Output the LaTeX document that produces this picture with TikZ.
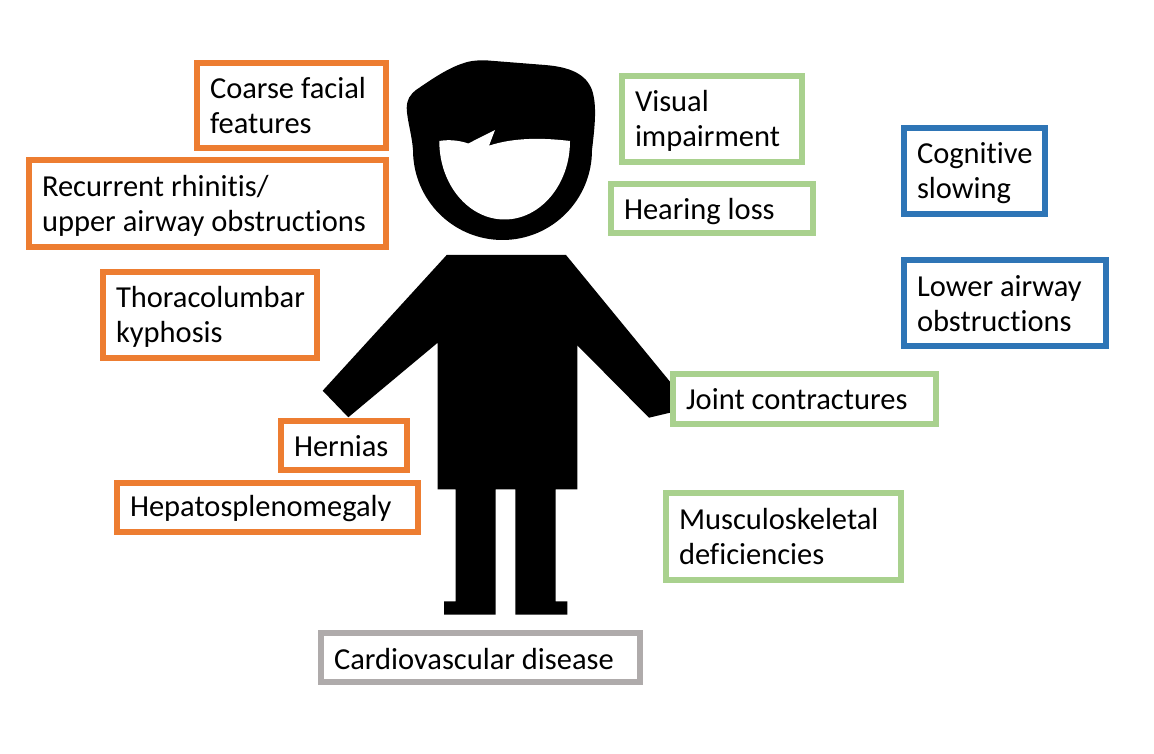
\documentclass[tikz,border=0pt]{standalone}
\usepackage{fontspec}
\setmainfont[Ligatures=NoCommon]{Carlito}
\definecolor{oran}{HTML}{ED7D31}
\definecolor{gree}{HTML}{A9D18E}
\definecolor{blu}{HTML}{2E75B6}
\definecolor{gra}{HTML}{AFABAB}
% #1 name, #2 colour, #3-#6 frame corners, #7 text shift, #8 text
\newcommand{\lbox}[8]{%
  \pgfmathsetmacro{\bw}{#5-#3}\pgfmathsetmacro{\bh}{#6-#4}%
  \pgfmathsetmacro{\bx}{(#3+#5)/2}\pgfmathsetmacro{\by}{(#4+#6)/2}%
  \pgfmathsetmacro{\ty}{\by+#7}%
  \node[frame box,draw=#2,minimum width=\bw pt,minimum height=\bh pt] (#1) at (\bx,\by) {};
  \node[label text,text width=\bw pt-26pt] (#1 text) at (\bx,\ty) {\spaceskip=6.9pt\relax #8};}
\tikzset{
  frame box/.style={rectangle,line width=5.4pt,inner sep=0pt},
  label text/.style={rectangle,inner sep=0pt,align=left,font=\fontsize{30.5}{35}\selectfont,text=black},
  figure/.style={fill=black,draw=none}
}
\begin{document}
\begin{tikzpicture}[x=1pt,y=-1pt]
\useasboundingbox (0,0) rectangle (1154,754);
% head
\fill[figure] (406.7,108) .. controls (407,99) and (410,95) .. (416,90)
  .. controls (432,79) and (448,68) .. (464,63) .. controls (471,60.5) and (480,60) .. (488,60.5)
  -- (545,65) .. controls (570,67) and (586,74) .. (592,90)
  .. controls (597,105) and (595,125) .. (592,150)
  .. controls (592,199.7) and (552,240) .. (502.5,240)
  .. controls (453,240) and (413,199.7) .. (413,150)
  .. controls (412,135) and (407,120) .. (406.7,108) -- cycle;
\fill[white] (439.3,141) .. controls (448,139.5) and (458,140) .. (468.3,143.5)
  -- (495,130) -- (489,145.7) .. controls (515,137) and (545,138) .. (570,141)
  .. controls (570,185) and (540,219.5) .. (504.5,219.5)
  .. controls (469,219.5) and (439.3,185) .. (439.3,141) -- cycle;
% body
\fill[figure] (446.7,255) -- (566,255) -- (670,381.7) -- (670,412.7) -- (649,417.7)
  -- (577.3,345.3) -- (577.3,489.3) -- (555.7,489.3) -- (555.7,601.3) -- (567.3,601.3)
  -- (567.3,614.7) -- (515.3,614.7) -- (515.3,489.3) -- (495.7,489.3) -- (495.7,614.7)
  -- (444,614.7) -- (444,601.3) -- (455.7,601.3) -- (455.7,489.3) -- (437.7,489.3)
  -- (437.7,342.7) -- (348.3,417.3) -- (322.7,390.7) -- cycle;
% labels
\lbox{coarse}{oran}{197}{63}{386}{148}{0}{Coarse facial\\features}
\lbox{rhinitis}{oran}{29}{160}{386}{247}{2}{Recurrent rhinitis/\\upper airway obstructions}
\lbox{kyphosis}{oran}{103}{272}{317}{358}{2}{Thoracolumbar\\kyphosis}
\lbox{hernias}{oran}{281}{421}{407}{470}{1}{Hernias}
\lbox{hepato}{oran}{117}{483}{418}{532}{1.5}{Hepatosplenomegaly}
\lbox{cardio}{gra}{321}{633}{640}{682}{2}{Cardiovascular disease}
\lbox{visual}{gree}{622}{76}{802}{162}{2}{Visual\\impairment}
\lbox{hearing}{gree}{611}{184}{813}{233}{3}{Hearing loss}
\lbox{cognitive}{blu}{904}{128}{1045}{214}{2}{Cognitive\\slowing}
\lbox{lower}{blu}{904}{260}{1106}{346}{0.5}{Lower airway\\obstructions}
\lbox{joint}{gree}{673}{374}{936}{424}{0}{Joint contractures}
\lbox{musculo}{gree}{666}{493}{901}{580}{0.5}{Musculoskeletal\\deficiencies}
\end{tikzpicture}
\end{document}
